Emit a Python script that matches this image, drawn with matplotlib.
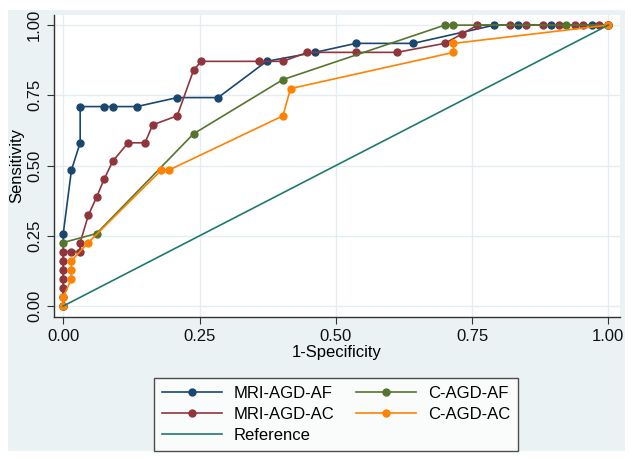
import numpy as np
import matplotlib
matplotlib.use("Agg")
import matplotlib.pyplot as plt
from matplotlib.patches import Rectangle

plt.rcParams['font.family'] = ['Liberation Sans', 'DejaVu Sans']

# ROC points
mri_af_x = [0, 0, 0.015, 0.031, 0.031, 0.075, 0.091, 0.135, 0.209, 0.284, 0.373, 0.462,
            0.537, 0.642, 0.791, 0.834, 0.895, 0.97, 1.0]
mri_af_y = [0, 0.258, 0.484, 0.581, 0.710, 0.710, 0.710, 0.710, 0.742, 0.742, 0.871, 0.903,
            0.935, 0.935, 1.0, 1.0, 1.0, 1.0, 1.0]

mri_ac_x = [0, 0, 0, 0, 0, 0, 0, 0.015, 0.031, 0.031, 0.046, 0.061, 0.075, 0.091, 0.119,
            0.150, 0.164, 0.209, 0.239, 0.253, 0.359, 0.403, 0.448, 0.537, 0.612, 0.700,
            0.731, 0.760, 0.820, 0.849, 0.880, 0.910, 0.939, 0.954, 0.983, 1.0]
mri_ac_y = [0, 0.032, 0.065, 0.097, 0.129, 0.161, 0.194, 0.194, 0.194, 0.226, 0.323, 0.387,
            0.452, 0.516, 0.581, 0.581, 0.645, 0.677, 0.839, 0.871, 0.871, 0.871, 0.903,
            0.903, 0.903, 0.935, 0.968, 1.0, 1.0, 1.0, 1.0, 1.0, 1.0, 1.0, 1.0, 1.0]

c_af_x = [0, 0.061, 0.239, 0.403, 0.700, 0.716, 0.923, 1.0]
c_af_y = [0.226, 0.258, 0.613, 0.806, 1.0, 1.0, 1.0, 1.0]

c_ac_x = [0, 0, 0.015, 0.015, 0.015, 0.046, 0.180, 0.194, 0.403, 0.417, 0.716, 0.716, 1.0]
c_ac_y = [0, 0.032, 0.097, 0.129, 0.161, 0.226, 0.484, 0.484, 0.677, 0.774, 0.903, 0.935, 1.0]

ref_x = [0, 1]
ref_y = [0, 1]

navy = '#1a476f'
maroon = '#90353b'
green = '#55752f'
orange = '#ff8200'
teal = '#1f7a6b'
bg = '#eaf2f3'

fig = plt.figure(figsize=(6.33, 4.59), dpi=100)
fig.patch.set_facecolor('white')
# stata style outer region
fig.patches.append(Rectangle((8/633, 1-451/459), 617/633, 441/459,
                             transform=fig.transFigure, facecolor=bg,
                             edgecolor='none', zorder=-10))

ax = fig.add_axes([54/633, 1-316.7/459, 566/633, 301.7/459])
ax.set_facecolor('white')

ms = 5
lw = 1.2
l1, = ax.plot(mri_af_x, mri_af_y, color=navy, marker='o', ms=ms, lw=lw, label='MRI-AGD-AF')
l2, = ax.plot(mri_ac_x, mri_ac_y, color=maroon, marker='o', ms=ms, lw=lw, label='MRI-AGD-AC')
l3, = ax.plot(c_af_x, c_af_y, color=green, marker='o', ms=ms, lw=lw, label='C-AGD-AF')
l4, = ax.plot(c_ac_x, c_ac_y, color=orange, marker='o', ms=ms, lw=lw, label='C-AGD-AC')
l5, = ax.plot(ref_x, ref_y, color=teal, lw=lw, label='Reference')

ax.set_xlim(-0.017, 1.0215)
ax.set_ylim(-0.038, 1.036)
ticks = [0, 0.25, 0.5, 0.75, 1.0]
ax.set_xticks(ticks)
ax.set_yticks(ticks)
ax.set_xticklabels(['%.2f' % t for t in ticks])
ax.set_yticklabels(['%.2f' % t for t in ticks], rotation=90, va='center')
ax.grid(True, color='#e4eef0', lw=1.0)
ax.set_axisbelow(True)
for s in ['top', 'right']:
    ax.spines[s].set_visible(False)
for s in ['left', 'bottom']:
    ax.spines[s].set_color('#333333')
    ax.spines[s].set_linewidth(1.0)
ax.tick_params(direction='out', length=5, color='#333333', labelsize=12, labelcolor='#111111')
ax.set_xlabel('1-Specificity', fontsize=12, labelpad=1)
ax.set_ylabel('Sensitivity', fontsize=12, labelpad=2)

leg = fig.legend(handles=[l1, l2, l5, l3, l4], ncol=2, loc='lower center',
                 bbox_to_anchor=(336/633, 1-451/459),
                 fontsize=12, frameon=True, fancybox=False, handlelength=3.6,
                 borderpad=0.5, labelspacing=0.35, columnspacing=1.3,
                 handletextpad=0.7, borderaxespad=0)
leg.get_frame().set_edgecolor('#222222')
leg.get_frame().set_linewidth(1.0)

fig.savefig('out.png', dpi=100, facecolor='white')
